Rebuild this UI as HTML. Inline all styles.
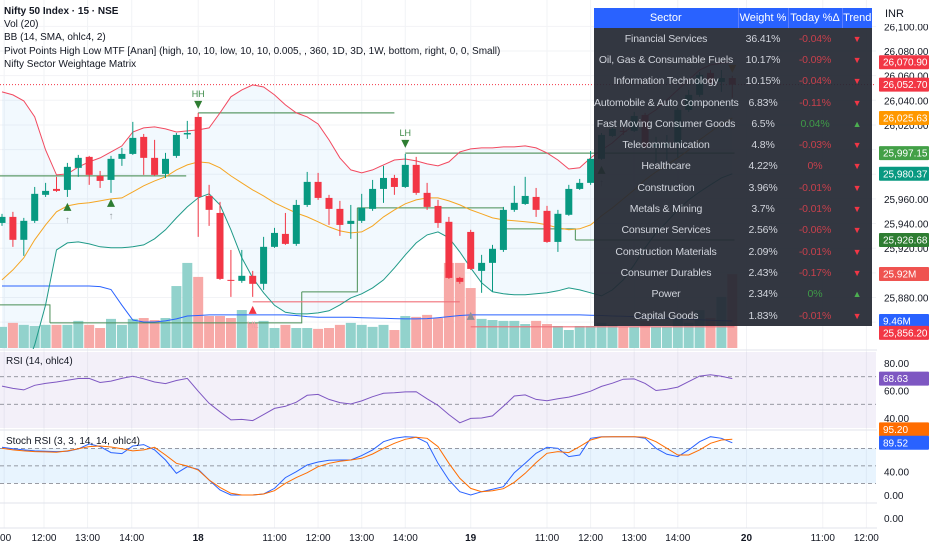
<!DOCTYPE html>
<html><head><meta charset="utf-8">
<style>
html,body{margin:0;padding:0;background:#fff;}
body{width:932px;height:550px;overflow:hidden;position:relative;font-family:"Liberation Sans",sans-serif;}
#chart{position:absolute;left:0;top:0;}
.legend{position:absolute;left:4px;top:5px;font-size:10px;color:#131722;line-height:13.2px;}
.legend div{white-space:nowrap}
.pl{position:absolute;left:6px;font-size:10px;color:#131722;}
table.sec{position:absolute;left:594px;top:8px;width:278px;table-layout:fixed;border-collapse:collapse;font-size:10.5px;background:rgba(36,40,51,0.93);}
table.sec th{background:#2962ff;color:#fff;font-weight:normal;height:20px;padding:0;border-right:1px solid #5c7fff;font-size:11px;white-space:nowrap;overflow:hidden;}
table.sec td{height:21.3px;padding:0;text-align:center;color:#d1d4dc;white-space:nowrap;overflow:visible;letter-spacing:-0.15px;}
td.r{color:#c8404c!important}
td.g{color:#3f9b48!important}
td.tr{color:#f23645!important;font-size:9px}
td.tg{color:#4caf50!important;font-size:9px}
.inr{position:absolute;left:877px;top:4px;width:53px;height:20px;background:#fff;font-size:11px;color:#131722;line-height:20px;padding-left:8px;box-sizing:border-box;}
</style></head>
<body>
<svg id="chart" width="932" height="550"></svg>
<div class="legend">
<div style="font-weight:bold">Nifty 50 Index · 15 · NSE</div>
<div>Vol (20)</div>
<div>BB (14, SMA, ohlc4, 2)</div>
<div>Pivot Points High Low MTF [Anan] (high, 10, 10, low, 10, 10, 0.005, , 360, 1D, 3D, 1W, bottom, right, 0, 0, Small)</div>
<div>Nifty Sector Weightage Matrix</div>
</div>
<div class="pl" style="top:356px">RSI (14, ohlc4)</div>
<div class="pl" style="top:436px">Stoch RSI (3, 3, 14, 14, ohlc4)</div>
<div class="inr">INR</div>
<table class="sec">
<colgroup><col style="width:144px"><col style="width:50px"><col style="width:54px"><col style="width:30px"></colgroup>
<tr><th>Sector</th><th>Weight %</th><th>Today %Δ</th><th style="border-right:none">Trend</th></tr>
<tr><td>Financial Services</td><td>36.41%</td><td class="r">-0.04%</td><td class="tr">▼</td></tr>
<tr><td>Oil, Gas &amp; Consumable Fuels</td><td>10.17%</td><td class="r">-0.09%</td><td class="tr">▼</td></tr>
<tr><td>Information Technology</td><td>10.15%</td><td class="r">-0.04%</td><td class="tr">▼</td></tr>
<tr><td>Automobile &amp; Auto Components</td><td>6.83%</td><td class="r">-0.11%</td><td class="tr">▼</td></tr>
<tr><td>Fast Moving Consumer Goods</td><td>6.5%</td><td class="g">0.04%</td><td class="tg">▲</td></tr>
<tr><td>Telecommunication</td><td>4.8%</td><td class="r">-0.03%</td><td class="tr">▼</td></tr>
<tr><td>Healthcare</td><td>4.22%</td><td class="r">0%</td><td class="tr">▼</td></tr>
<tr><td>Construction</td><td>3.96%</td><td class="r">-0.01%</td><td class="tr">▼</td></tr>
<tr><td>Metals &amp; Mining</td><td>3.7%</td><td class="r">-0.01%</td><td class="tr">▼</td></tr>
<tr><td>Consumer Services</td><td>2.56%</td><td class="r">-0.06%</td><td class="tr">▼</td></tr>
<tr><td>Construction Materials</td><td>2.09%</td><td class="r">-0.01%</td><td class="tr">▼</td></tr>
<tr><td>Consumer Durables</td><td>2.43%</td><td class="r">-0.17%</td><td class="tr">▼</td></tr>
<tr><td>Power</td><td>2.34%</td><td class="g">0%</td><td class="tg">▲</td></tr>
<tr><td>Capital Goods</td><td>1.83%</td><td class="r">-0.01%</td><td class="tr">▼</td></tr>
</table>
<script>
const opens=[25940.5,25945.4,25926.8,25942.2,25963.3,25968.1,25967.3,25985.2,25994.1,25978.7,25975.4,25992.5,25996.5,26010.3,25993.3,25980.3,25994.9,26012.3,26026.5,25962.4,25948.6,25894.3,25893.5,25897.6,25891.1,25921.1,25931.6,25923.5,25955.1,25973.8,25960.8,25951.9,25939.7,25942.2,25951.9,25968.1,25977.0,25969.7,25987.6,25964.9,25954.3,25941.4,25895.9,25933.2,25901.6,25908.1,25918.6,25951.1,25955.9,25961.6,25950.3,25925.1,25947.1,25968.1,25973.0,25992.5,26011.1,26015.2,26015.2,26028.1,26002.2,26003.0,26005.4,26032.2,26044.4,26062.2,26054.9,26058.1];
const highs=[25947.9,25949.5,25944.6,25969.7,25973.0,25977.9,25989.2,25995.7,25994.9,25982.7,25994.9,26001.4,26022.5,26012.7,26007.9,25997.3,26013.5,26023.3,26029.8,25971.4,25957.6,25918.6,25918.6,25901.6,25929.2,25936.5,25948.6,25959.2,25981.9,25981.1,25963.3,25958.4,25955.1,25964.1,25975.4,25986.8,25979.5,25996.5,25994.1,25973.0,25959.2,25945.4,25896.7,25934.9,25914.6,25922.7,25953.5,25970.6,25977.9,25968.9,25954.3,25951.1,25971.4,25976.2,25998.9,26013.5,26019.2,26018.4,26030.6,26029.8,26010.3,26011.9,26033.8,26048.4,26063.0,26064.6,26064.6,26059.8];
const lows=[25938.1,25921.1,25913.8,25940.5,25961.6,25965.7,25961.6,25977.9,25971.4,25968.9,25964.9,25986.8,25995.7,25979.5,25978.7,25977.0,25993.3,26008.7,25929.2,25938.1,25894.3,25880.5,25891.9,25880.5,25886.2,25920.3,25922.7,25921.9,25953.5,25959.2,25938.9,25930.0,25927.6,25940.5,25950.3,25956.8,25963.3,25968.9,25963.3,25951.1,25936.5,25895.1,25891.1,25902.4,25883.8,25884.6,25917.0,25949.5,25955.1,25945.4,25924.3,25917.0,25946.3,25967.3,25971.4,25991.7,26010.3,26011.9,26014.3,25999.7,25989.2,25991.7,25993.3,26030.6,26042.8,26052.5,26046.8,26042.0];
const closes=[25945.4,25926.8,25942.2,25964.1,25966.5,25966.5,25986.0,25993.3,25979.5,25974.6,25992.5,25996.5,26009.5,25993.3,25979.5,25992.5,26011.9,26013.5,25961.6,25951.1,25895.1,25893.9,25897.6,25891.1,25921.1,25932.4,25923.5,25955.1,25973.8,25960.8,25951.9,25938.9,25942.2,25952.7,25968.1,25977.0,25969.7,25987.6,25964.9,25953.5,25940.5,25895.9,25892.7,25903.2,25908.1,25919.5,25951.1,25956.8,25962.4,25951.1,25925.1,25947.9,25968.1,25973.0,25992.5,26011.9,26016.8,26014.8,26027.3,26002.2,26004.6,26005.4,26032.2,26044.4,26060.6,26054.1,26058.1,26052.7];
const volumes=[7.4,8.8,8.1,7.7,8.1,8.1,8.1,9.5,8.1,7.0,10.2,8.1,10.2,10.5,9.8,10.5,21.7,29.8,24.9,11.2,11.2,10.5,13.3,8.8,9.5,7.0,8.1,7.0,7.0,6.7,7.0,8.1,8.8,8.1,7.4,8.1,6.3,11.2,10.9,11.6,10.5,29.8,29.8,21.0,10.2,9.8,9.5,9.5,8.4,9.5,8.4,7.7,6.3,7.7,7.7,8.8,8.1,7.4,7.4,9.5,7.4,7.4,10.5,8.8,13.3,10.5,17.9,25.9];
const volMA=[21.7,21.7,21.7,21.7,21.7,21.7,21.7,21.7,21.7,21.5,20.5,15.0,9.8,9.1,9.1,9.5,10.2,11.2,11.4,11.6,11.6,11.6,11.6,11.6,11.6,11.6,11.6,11.4,11.0,10.8,10.8,10.8,10.8,10.6,10.5,10.4,10.3,10.2,10.2,10.3,10.6,11.0,11.4,11.6,11.6,11.6,11.6,11.6,11.6,11.6,11.6,11.6,11.6,11.6,11.5,11.4,11.2,11.1,11.0,10.8,10.6,10.4,10.2,10.0,9.9,9.7,9.6,9.46];
const bbUpper=[26046.8,26044.4,26039.5,26026.5,25999.7,25979.5,25980.3,25986.0,25990.0,25993.3,25998.1,26003.0,26014.3,26017.6,26018.4,26016.8,26014.3,26015.2,26016.0,26017.6,26029.8,26042.8,26048.4,26052.5,26050.8,26044.4,26036.3,26029.8,26026.5,26020.8,26007.9,25993.3,25983.5,25981.1,25983.5,25987.6,25991.6,25992.4,25990.8,25988.4,25986.8,25990.0,25998.1,26000.6,26001.4,26001.4,26002.2,26002.2,26003.0,26001.4,25997.3,25991.6,25984.3,25985.2,25993.3,25999.7,26005.4,26013.5,26020.0,26026.5,26032.2,26040.3,26048.4,26056.6,26064.6,26068.7,26070.3,26070.9];
const bbBasis=[25894.3,25902.4,25912.2,25926.8,25938.9,25949.5,25954.3,25956.0,25956.8,25958.4,25960.0,25960.8,25965.7,25970.6,25974.6,25977.9,25983.5,25987.6,25990.0,25989.2,25985.2,25978.7,25973.0,25967.3,25962.4,25956.8,25952.7,25948.6,25945.4,25941.4,25937.3,25934.0,25932.4,25933.2,25938.1,25945.4,25951.1,25956.0,25959.2,25960.8,25960.8,25958.4,25955.1,25951.1,25947.9,25944.6,25943.0,25942.2,25941.4,25940.5,25938.9,25936.5,25934.9,25935.7,25938.9,25946.2,25952.7,25960.0,25967.3,25975.4,25981.9,25987.6,25993.3,25999.7,26007.9,26014.3,26020.8,26025.63];
const bbLower=[25780.8,25797.0,25817.3,25841.6,25874.0,25918.6,25924.3,25925.1,25923.5,25921.1,25920.3,25920.3,25921.1,25922.7,25927.6,25934.9,25944.6,25953.5,25960.8,25964.1,25955.1,25934.9,25912.2,25895.9,25883.8,25873.7,25868.0,25866.7,25866.7,25867.5,25869.2,25874.0,25879.7,25883.0,25887.8,25894.3,25904.0,25914.6,25924.3,25930.8,25933.2,25928.4,25917.0,25904.0,25891.9,25884.6,25883.0,25882.2,25882.2,25883.0,25883.8,25885.4,25887.8,25886.2,25883.8,25881.3,25886.2,25894.3,25906.5,25920.3,25932.4,25941.4,25951.1,25959.2,25965.7,25971.4,25977.0,25980.37];
const rsiValues=[63.2,61.5,60.4,63.8,65.2,66.2,67.5,68.7,68.8,65.8,66.8,68.8,70.4,68.5,66.2,65.0,67.3,68.8,59.5,50.7,44.5,38.6,39.0,38.1,42.5,47.0,48.5,51.5,56.5,57.2,53.5,51.2,50.2,52.4,55.5,58.0,58.3,59.0,59.1,54.0,49.2,42.5,36.5,39.7,40.0,41.5,48.5,56.0,56.8,53.5,52.6,54.0,55.2,57.2,59.5,63.0,65.3,68.2,68.4,65.2,60.0,60.9,62.5,66.5,70.5,71.5,70.3,68.63];
const stochK=[81.8,79.5,77.3,75.6,75,74.4,75,79,87.6,83,72.7,71,84,86.4,77.3,60,37.2,48.6,44,25.7,8.6,0,0,0,1.7,11.4,29.8,40,51.5,56.6,59.5,60.1,60.1,67.5,77.3,91.5,97.2,100,98.9,89.8,54.3,25.7,5.7,0,5.7,9.7,14.3,38.3,54.3,71.5,81.8,80.1,65.8,68.6,97.2,100,100,100,100,97.2,80.1,69.8,65.8,77.3,91.5,100,97.2,89.52];
const stochD=[80.1,77.3,75.6,74.4,73.9,73.3,75.6,79.5,83,84.1,82.4,79.5,75.6,77.3,81.8,68.6,54.3,49.8,42.9,25.7,13.1,2.9,0,0,1.7,7.4,20,29.8,38.3,48.6,54.3,57.8,60.1,62.9,70.4,80.1,88.7,95.5,98.9,97.2,83,54.3,28.6,11.4,5.7,7.4,10.8,21.7,37.2,55.5,71.5,74.4,72.7,83,94.4,99.4,100,100,100,98.9,91.5,80.1,68.6,68.6,77.3,88.7,94.4,95.5];
const priceTicks=[26100,26080,26060,26040,26020,26000,25980,25960,25940,25920,25900,25880,25860];
const priceTickLabels=["26,100.00","26,080.00","26,060.00","26,040.00","26,020.00","26,000.00","25,980.00","25,960.00","25,940.00","25,920.00","25,900.00","25,880.00","25,860.00"];
const timeLabels=[":00","12:00","13:00","14:00","18","11:00","12:00","13:00","14:00","19","11:00","12:00","13:00","14:00","20","11:00","12:00"];
const timeSlots=[0.2,3.85,7.85,11.9,18,25,29,33,37,43,50,54,58,62,68.3,75.3,79.3];
const rsiTicks=[80,60,40];
const stochTicks=[40,0];
const pivotHighLevels=[[-0.2,16.9,25978.7],[18,36,26029.8],[37,67.2,25997.15]];
const pivotLowLevels=[[23,42,25876.5],[43,67.2,25856.2]];
const stepLevels=[[-0.2,4.4,25874.0],[4.4,27.5,25859.4],[27.5,32.6,25884.6],[32.6,46,25952.7],[46,52.6,25935.7],[52.6,67.2,25926.68]];

const svg=document.getElementById('chart');
const NS='http://www.w3.org/2000/svg';
function mk(tag,attrs,parent){const e=document.createElementNS(NS,tag);for(const k in attrs)e.setAttribute(k,attrs[k]);(parent||svg).appendChild(e);return e;}
const xOf=i=>2+10.9*i;
const yP=p=>51+(26080-p)*1.2325;
const yV=v=>348-v*2.855;
const yR=v=>363+(80-v)*1.375;
const yS=v=>495-v*0.583;

const grid=mk('g',{});


priceTicks.forEach(p=>{const y=yP(p);if(y>0&&y<350){const l=mk('line',{x1:0,x2:876,y1:y,y2:y,stroke:'#f2f3f6','stroke-width':1},grid);}});
timeSlots.forEach(s=>{const x=xOf(s);const l=mk('line',{x1:x,x2:x,y1:0,y2:528,stroke:'#f2f3f6','stroke-width':1},grid);});

const defs=mk('defs',{});
const cp=mk('clipPath',{id:'mainclip'},defs);
mk('rect',{x:0,y:0,width:876,height:349},cp);
const main=mk('g',{'clip-path':'url(#mainclip)'});



let fd='';
bbUpper.forEach((v,i)=>{fd+=(i?'L':'M')+xOf(i)+','+yP(v);});
for(let i=bbLower.length-1;i>=0;i--)fd+='L'+xOf(i)+','+yP(bbLower[i]);
const bbf=mk('path',{d:fd+'Z',fill:'rgba(33,150,243,0.06)'},main);



volumes.forEach((v,i)=>{const up=closes[i]>=opens[i];const r=mk('rect',{x:xOf(i)-5,y:yV(v),width:10,height:v*2.855,fill:up?'#92d2cc':'#f7a9a7'},main);});
function line(arr,yf,color,w,name,parent){let d='';arr.forEach((v,i)=>{d+=(i?'L':'M')+xOf(i).toFixed(1)+','+yf(v).toFixed(1);});const p=mk('path',{d:d,fill:'none',stroke:color,'stroke-width':w},parent||main);return p;}
line(volMA,yV,'#2962ff',1,'volume-ma-line');

stepLevels.forEach((s,k)=>{let d='M'+xOf(s[0])+','+yP(s[2])+'L'+xOf(s[1])+','+yP(s[2]);if(k<stepLevels.length-1)d+='L'+xOf(s[1])+','+yP(stepLevels[k+1][2]);const p=mk('path',{d:d,fill:'none',stroke:'#4a8f56','stroke-width':1},main);});
pivotHighLevels.forEach(s=>{const p=mk('line',{x1:xOf(s[0]),x2:xOf(s[1]),y1:yP(s[2]),y2:yP(s[2]),stroke:'#5d9b68','stroke-width':1.2},main);});
pivotLowLevels.forEach(s=>{const p=mk('line',{x1:xOf(s[0]),x2:xOf(s[1]),y1:yP(s[2]),y2:yP(s[2]),stroke:'#f0707a','stroke-width':1.2},main);});

line(bbUpper,yP,'#f2495f',1,'bb-upper-line');
line(bbBasis,yP,'#f5a623',1,'bb-basis-line');
line(bbLower,yP,'#1f9a88',1,'bb-lower-line');

const lp=mk('line',{x1:0,x2:876,y1:yP(closes[closes.length-1]),y2:yP(closes[closes.length-1]),stroke:'#f23645','stroke-width':1,'stroke-dasharray':'1,2'},main);



opens.forEach((o,i)=>{const c=closes[i];const up=c>=o;const col=up?'#089981':'#f23645';const x=xOf(i);
const w=mk('line',{x1:x,x2:x,y1:yP(highs[i]),y2:yP(lows[i]),stroke:col,'stroke-width':1},main);
const top=yP(Math.max(o,c));const h=Math.max(1,Math.abs(yP(o)-yP(c)));
const b=mk('rect',{x:x-3.5,y:top,width:7,height:h,fill:col},main);});

function tri(x,y,up,col,name){const d=up?`M${x-4},${y+4}L${x+4},${y+4}L${x},${y-4}Z`:`M${x-4},${y-4}L${x+4},${y-4}L${x},${y+4}Z`;const p=mk('path',{d:d,fill:col},main);}
function txt(x,y,s,col,size,name,parent,anchor){const t=mk('text',{x:x,y:y,fill:col,'font-size':size,'font-family':'Liberation Sans, sans-serif','text-anchor':anchor||'middle'},parent||main);t.textContent=s;return t;}
tri(xOf(18),yP(highs[18])-8,false,'#2e7d32','hh-marker');txt(xOf(18),yP(highs[18])-16,'HH','#3d8b48',9,'hh-label');
tri(xOf(37),yP(highs[37])-10,false,'#2e7d32','lh-marker');txt(xOf(37),yP(highs[37])-18,'LH','#3d8b48',9,'lh-label');
[6,10,55].forEach(i=>{tri(xOf(i),yP(lows[i])+10,true,'#2e7d32','pivot-up-marker');txt(xOf(i),yP(lows[i])+26,'↑','#9aa0a6',10,'pivot-up-arrow');});
tri(xOf(23),yP(lows[23])+13,true,'#f23645','hl-marker');txt(xOf(23),yP(lows[23])+31,'HL','#f4a0a6',9,'hl-label');
tri(xOf(43),yP(lows[43])+46,true,'#8d8f96','low-marker');
tri(xOf(67),yP(highs[67])-7,false,'#f59c1a','bb-touch-marker');

const rsiBg=mk('rect',{x:0,y:352,width:876,height:76,fill:'rgba(126,87,194,0.09)'});


[70,50].forEach(v=>{const l=mk('line',{x1:0,x2:876,y1:yR(v),y2:yR(v),stroke:'#787b86','stroke-width':0.8,'stroke-dasharray':'4,3'});});
line(rsiValues,yR,'#7e57c2',1,'rsi-line',svg);

const stBg=mk('rect',{x:0,y:yS(80),width:876,height:yS(20)-yS(80),fill:'rgba(33,150,243,0.1)'});


[80,50,20].forEach(v=>{const l=mk('line',{x1:0,x2:876,y1:yS(v),y2:yS(v),stroke:'#787b86','stroke-width':0.8,'stroke-dasharray':'4,3'});});
line(stochK,yS,'#2962ff',1,'stoch-k-line',svg);
line(stochD,yS,'#ff6d00',1,'stoch-d-line',svg);

[350,430,503,528].forEach(y=>{const l=mk('line',{x1:0,x2:932,y1:y,y2:y,stroke:'#e0e3eb','stroke-width':1});});

const ax=mk('g',{});


mk('rect',{x:877,y:0,width:55,height:550,fill:'#fff'},ax);
priceTicks.forEach((p,k)=>{const y=yP(p);if(y>20&&y<345){txt(884,y+4,priceTickLabels[k],'#131722',10,'price-tick-label',ax,'start');}});
rsiTicks.forEach(v=>txt(884,yR(v)+4,v.toFixed(2),'#131722',10,'rsi-tick-label',ax,'start'));
stochTicks.forEach(v=>txt(884,yS(v)+4,v.toFixed(2),'#131722',10,'stoch-tick-label',ax,'start'));
txt(884,522,'0.00','#131722',10,'empty-pane-tick',ax,'start');
function badge(y,label,bg,name){const r=mk('rect',{x:879,y:y-7,width:50,height:14,fill:bg,rx:1},ax);txt(883,y+3.5,label,'#fff',10,name+'-text',ax,'start');}
badge(yP(bbUpper[67]),'26,070.90','#f23645','bb-upper-badge');
badge(yP(closes[67]),'26,052.70','#f23645','last-price-badge');
badge(yP(bbBasis[67]),'26,025.63','#ff9800','bb-basis-badge');
badge(yP(pivotHighLevels[2][2]),'25,997.15','#43a047','pivot-high-badge');
badge(yP(bbLower[67]),'25,980.37','#089981','bb-lower-badge');
badge(yP(stepLevels[5][2]),'25,926.68','#2e7d32','pivot-step-badge');
badge(yV(volumes[67]),'25.92M','#ef5350','volume-badge');
badge(yV(volMA[67]),'9.46M','#2962ff','volume-ma-badge');
badge(yP(pivotLowLevels[1][2])+6,'25,856.20','#f23645','pivot-low-badge');
badge(yR(rsiValues[67]),'68.63','#7e57c2','rsi-badge');
badge(yS(stochD[67])-10,'95.20','#ff6d00','stoch-d-badge');
badge(yS(stochK[67]),'89.52','#2962ff','stoch-k-badge');

const tx=mk('g',{});


timeLabels.forEach((s,k)=>{const t=txt(xOf(timeSlots[k]),541,s,'#131722',10,'time-tick-label',tx);if(/^\d+$/.test(s))t.setAttribute('font-weight','bold');});
</script>
</body></html>
